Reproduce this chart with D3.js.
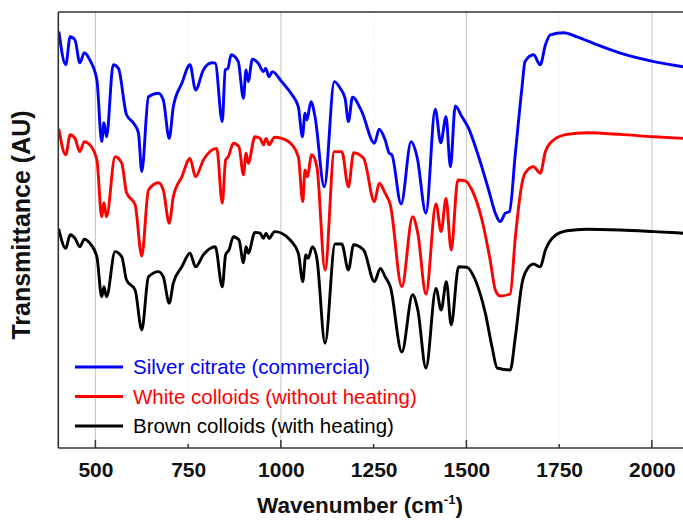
<!DOCTYPE html>
<html>
<head>
<meta charset="utf-8">
<script src="https://cdn.jsdelivr.net/npm/d3@7"></script>
<style>
  html, body { margin: 0; padding: 0; background: #fff; }
  svg { display: block; font-family: "Liberation Sans", Arial, Helvetica, sans-serif; }
</style>
</head>
<body>
<svg id="chart" width="683" height="521"></svg>
<script>
// FTIR spectra, wavenumber (cm-1) vs. transmittance (arbitrary units, stacked)
const seriesNames = ["Silver citrate (commercial)", "White colloids (without heating)", "Brown colloids (with heating)"];
const seriesColors = ["#0000ff", "#ff0000", "#000000"];

const silverCitrate = [
  [402,103.8],[420,95.8],[432,102.8],[445,102],[458,96.3],[470,98.8],[485,97],[504,92],
  [517,76.6],[523,81.3],[530,77.8],[548,95.8],[562,94.9],[584,83.3],[602,81.3],[616,78.8],
  [625,69.1],[643,87.8],[670,88.7],[683,87],[699,77.4],[710,85.3],[733,91.2],[755,95.8],
  [770,89.5],[791,94.5],[814,96.3],[823,96.2],[842,81.6],[850,94.5],[857,94.9],[866,98.3],
  [885,96.6],[899,87.4],[906,94.5],[912,91.6],[923,97.2],[939,96.2],[953,94.1],[959,94.9],
  [968,92.8],[977,94.1],[1002,91.6],[1030,88.3],[1047,85.3],[1058,77.8],[1065,83.7],[1070,82],
  [1081,86.6],[1092,82.8],[1117,65.3],[1144,91.6],[1160,89.9],[1173,87.4],[1182,81.6],[1193,87.7],
  [1218,84.1],[1252,76.2],[1265,79.7],[1281,77],[1292,73.7],[1299,73.3],[1324,61],[1351,76.6],
  [1367,72.8],[1391,58.7],[1416,84.7],[1431,76.3],[1445,82.8],[1457,70.3],[1470,85.5],[1488,82.8],
  [1506,79.9],[1533,72.8],[1560,64.5],[1578,58.7],[1591,56.6],[1605,58.7],[1616,59.1],[1632,73.7],
  [1650,90.3],[1658,96.6],[1681,98.3],[1699,95.8],[1713,100.8],[1726,103.3],[1762,103.8],[1798,102.8],
  [1852,100.8],[1915,98.7],[2005,96.6],[2085,95.3]
];

const whiteColloids = [
  [402,79.5],[420,73.3],[432,78.3],[445,77.4],[458,74.1],[470,76.6],[485,75.8],[504,72],
  [517,57.8],[523,61.3],[530,57.8],[553,72.8],[571,71.2],[584,63.8],[607,60.8],[625,48],
  [643,64.5],[670,66.3],[683,64.5],[699,56.2],[710,62.8],[733,67.8],[755,72.4],[770,67.8],
  [791,72],[827,74.9],[842,61.2],[851,72],[858,72.8],[872,76.2],[887,75.3],[899,68.3],
  [906,73.7],[912,71.2],[930,77.8],[944,77.4],[953,75.8],[960,77.4],[968,75.8],[983,77.7],
  [1002,77.4],[1030,75.8],[1047,72.8],[1059,61.6],[1065,69.5],[1071,67.8],[1083,73.3],[1097,70.3],
  [1119,44.5],[1144,74.1],[1164,74.1],[1182,65.3],[1196,73.8],[1223,72.4],[1252,61.6],[1265,66.2],
  [1281,63.7],[1295,60.8],[1326,40.3],[1355,57.8],[1369,53.7],[1391,38.5],[1418,61],[1432,54.1],
  [1445,62.4],[1459,49.5],[1477,67],[1497,66.8],[1515,64.5],[1542,57],[1564,47],[1578,39.5],
  [1591,38],[1618,38.5],[1632,52.8],[1650,66.2],[1658,68.7],[1681,70.3],[1699,68.7],[1713,74.1],
  [1735,77],[1771,78.4],[1825,78.8],[1915,78.4],[2005,77.8],[2085,77.4]
];

const brownColloids = [
  [402,54.5],[420,49.9],[432,53.3],[445,52.4],[458,50.3],[470,52.2],[485,51.2],[504,47.8],
  [517,37.8],[523,40.3],[530,37.8],[553,49.1],[571,47.8],[584,42],[607,39.5],[625,29.5],
  [643,42.8],[670,44.1],[683,42.8],[699,36.2],[710,41.2],[733,45.3],[755,48.7],[770,45.3],
  [791,48.3],[823,50.3],[842,40.3],[851,48.3],[860,49.5],[872,52.8],[887,52],[899,46.3],
  [906,50.3],[912,48.7],[930,53.9],[944,53.7],[953,52.4],[960,53.7],[968,52.4],[983,54.1],
  [1002,53.7],[1025,52],[1047,48.7],[1059,41.6],[1067,48.3],[1073,47.4],[1085,50.3],[1097,47.4],
  [1119,26.2],[1146,51],[1164,51],[1182,44.5],[1196,50.8],[1223,49.5],[1252,41.6],[1268,44.9],
  [1281,42.8],[1295,40.3],[1326,24],[1355,38.3],[1369,34.5],[1391,20],[1418,39.9],[1432,34.5],
  [1446,41.6],[1459,30.8],[1479,45.3],[1501,45.2],[1524,42],[1551,33.7],[1569,25.3],[1583,20],
  [1618,19.5],[1632,27.8],[1650,41.2],[1658,43.7],[1681,46],[1699,45.3],[1713,49.5],[1735,52.8],
  [1771,54.3],[1825,54.7],[1915,54.5],[2005,54.1],[2085,53.7]
];

const spectra = [silverCitrate, whiteColloids, brownColloids];
const majorTicks = [500, 1000, 1500, 2000];
const minorTicks = [750, 1250, 1750];
const tickLabels = [500, 750, 1000, 1250, 1500, 1750, 2000];

const svg = d3.select("#chart");
const plot = { left: 58.3, top: 12, bottom: 448, right: 689 };

const x = d3.scaleLinear().domain([400, 2100]).range([plot.left, plot.right]);
const y = d3.scaleLinear().domain([0, 109]).range([plot.bottom, plot.top]);

svg.append("defs").append("clipPath").attr("id", "plotClip")
  .append("rect").attr("x", plot.left).attr("y", plot.top)
  .attr("width", plot.right - plot.left).attr("height", plot.bottom - plot.top);

// vertical grid lines
svg.append("g").selectAll("line").data(majorTicks).join("line")
  .attr("x1", d => x(d)).attr("x2", d => x(d))
  .attr("y1", plot.top).attr("y2", plot.bottom)
  .attr("stroke", "#c4c4c4").attr("stroke-width", 1);
svg.append("g").selectAll("line").data(minorTicks).join("line")
  .attr("x1", d => x(d)).attr("x2", d => x(d))
  .attr("y1", plot.top).attr("y2", plot.bottom)
  .attr("stroke", "#e2e2e2").attr("stroke-width", 1).attr("stroke-dasharray", "1,2");

// spectra
const line = d3.line().x(d => x(d[0])).y(d => y(d[1])).curve(d3.curveMonotoneX);
svg.append("g").attr("clip-path", "url(#plotClip)")
  .selectAll("path").data(spectra).join("path")
  .attr("d", line)
  .attr("fill", "none")
  .attr("stroke", (d, i) => seriesColors[i])
  .attr("stroke-width", 2.9)
  .attr("stroke-linejoin", "round")
  .attr("stroke-linecap", "round");

// bottom axis with inward ticks
const xAxis = d3.axisBottom(x).tickValues(tickLabels).tickSize(0).tickPadding(14).tickFormat(d3.format("d"));
const gx = svg.append("g").attr("transform", `translate(0,${plot.bottom})`).call(xAxis);
gx.select(".domain").remove();
gx.selectAll("text").attr("font-size", 21).attr("font-weight", "bold").attr("fill", "#111")
  .attr("font-family", "'Liberation Sans', Arial, sans-serif");
svg.append("g").selectAll("line").data(tickLabels).join("line")
  .attr("x1", d => x(d)).attr("x2", d => x(d))
  .attr("y1", plot.bottom)
  .attr("y2", d => plot.bottom - (majorTicks.includes(d) ? 8 : 4))
  .attr("stroke", "#333").attr("stroke-width", 1.5);

// frame: left, top and bottom edges
const frame = svg.append("g").attr("stroke", "#333").attr("stroke-width", 1.6).attr("fill", "none");
frame.append("line").attr("x1", plot.left).attr("x2", plot.left).attr("y1", plot.top).attr("y2", plot.bottom);
frame.append("line").attr("x1", plot.left).attr("x2", 683).attr("y1", plot.top).attr("y2", plot.top);
frame.append("line").attr("x1", plot.left).attr("x2", 683).attr("y1", plot.bottom).attr("y2", plot.bottom);

// axis titles
const xt = svg.append("text").attr("x", 360).attr("y", 513).attr("text-anchor", "middle")
  .attr("font-size", 22.5).attr("font-weight", "bold").attr("fill", "#111");
xt.append("tspan").text("Wavenumber (cm");
xt.append("tspan").attr("font-size", 13).attr("dy", -9).text("-1");
xt.append("tspan").attr("dy", 9).text(")");

svg.append("text").attr("transform", "translate(30,225) rotate(-90)")
  .attr("text-anchor", "middle").attr("font-size", 25).attr("font-weight", "bold")
  .attr("fill", "#111").text("Transmittance (AU)");

// legend
const legend = svg.append("g");
const legendRows = legend.selectAll("g").data(seriesNames).join("g")
  .attr("transform", (d, i) => `translate(75,${367 + i * 29.5})`);
legendRows.append("line").attr("x1", 0).attr("x2", 48).attr("y1", 0).attr("y2", 0)
  .attr("stroke", (d, i) => seriesColors[i]).attr("stroke-width", 2.9);
legendRows.append("text").attr("x", 58).attr("y", 7).attr("font-size", 20.5)
  .attr("fill", (d, i) => seriesColors[i]).text(d => d);
</script>
</body>
</html>
